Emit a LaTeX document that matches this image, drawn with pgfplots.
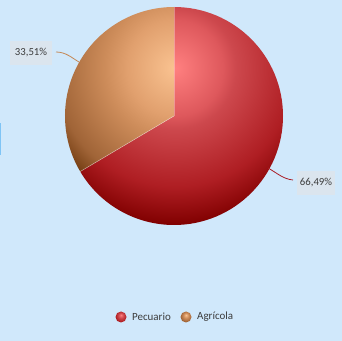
\documentclass[border=0pt]{standalone}
\usepackage{fontspec}
\setmainfont{Carlito}
\usepackage{pgfplots}
\usepackage{pgfplotstable}
\pgfplotsset{compat=1.18}

\definecolor{bgblue}{RGB}{208,232,251}
\definecolor{boxfill}{RGB}{219,229,238}
\definecolor{txt}{RGB}{60,60,60}
% red slice
\definecolor{r0}{RGB}{255,128,128}
\definecolor{r1}{RGB}{222,88,92}
\definecolor{r2}{RGB}{205,72,77}
\definecolor{r3}{RGB}{175,30,35}
\definecolor{r4}{RGB}{128,0,0}
% tan slice
\definecolor{t0}{RGB}{250,195,145}
\definecolor{t1}{RGB}{225,160,110}
\definecolor{t2}{RGB}{205,140,90}
\definecolor{t3}{RGB}{160,100,55}
\definecolor{t4}{RGB}{120,65,22}
\definecolor{t5}{RGB}{110,55,15}

% concentric shadings, centred on the highlight (25bp = radius of shaded path)
\pgfdeclareradialshading{redpie}{\pgfpointorigin}{color(0bp)=(r0); color(7.5bp)=(r1); color(9.5bp)=(r2); color(18.5bp)=(r3); color(24.5bp)=(r4); color(50bp)=(r4)}
\pgfdeclareradialshading{tanpie}{\pgfpointorigin}{color(0bp)=(t0); color(7.5bp)=(t1); color(11bp)=(t2); color(18.75bp)=(t3); color(21.75bp)=(t4); color(25bp)=(t5); color(50bp)=(t5)}
\pgfdeclareradialshading{redball}{\pgfpoint{0bp}{9bp}}{color(0bp)=(r0); color(12bp)=(r2); color(25bp)=(r3); color(50bp)=(r4)}
\pgfdeclareradialshading{tanball}{\pgfpoint{0bp}{9bp}}{color(0bp)=(t0); color(12bp)=(t2); color(25bp)=(t3); color(50bp)=(t4)}

% share of each sector, in percent
\pgfplotstableread{
label value
Pecuario 66.49
Agricola 33.51
}\piedata

\begin{document}
\begin{tikzpicture}
\pgfplotstablegetelem{0}{value}\of\piedata \let\vPec\pgfplotsretval
\pgfplotstablegetelem{1}{value}\of\piedata \let\vAgr\pgfplotsretval
\pgfmathsetmacro{\aStart}{90}
\pgfmathsetmacro{\aMid}{90-3.6*\vPec}
\pgfmathsetmacro{\aEnd}{\aMid-3.6*\vAgr}
\begin{axis}[width=342bp,height=341bp,scale only axis,hide axis,
    xmin=0,xmax=342,ymin=0,ymax=341]
  \fill[bgblue] (axis cs:0,0) rectangle (axis cs:342,341);
  \fill[color={rgb,255:red,127;green,196;blue,245}] (axis cs:0,186) rectangle (axis cs:1.4,218);
  % Pecuario
  \begin{scope}
    \clip (axis cs:174,225) -- ++(\aStart:109bp) arc[start angle=\aStart,end angle=\aMid,radius=109bp] -- cycle;
    \shade[shading=redpie] (axis cs:175,273) circle[radius=160bp];
  \end{scope}
  % Agricola
  \begin{scope}
    \clip (axis cs:174,225) -- ++(\aMid:109bp) arc[start angle=\aMid,end angle=\aEnd,radius=109bp] -- cycle;
    \shade[shading=tanpie] (axis cs:175,273) circle[radius=160bp];
  \end{scope}
  \draw[white,opacity=0.5,line width=0.5bp] (axis cs:174,225) -- ++(\aMid:109bp);
  \draw[white,opacity=0.3,line width=0.4bp] (axis cs:174,225) -- ++(\aStart:109bp);
  % leader lines
  \draw[color={rgb,255:red,196;green,136;blue,86},line width=0.8bp]
    (axis cs:56,289) .. controls (axis cs:66,289) and (axis cs:72,283) .. (axis cs:79,279);
  \draw[color={rgb,255:red,170;green,30;blue,40},line width=0.8bp]
    (axis cs:268,173) .. controls (axis cs:277,168) and (axis cs:283,162) .. (axis cs:293,161);
  % data labels
  \node[fill=boxfill,minimum width=42bp,minimum height=24bp,inner sep=0pt,text=txt,
    font=\fontsize{10.8}{12}\selectfont] at (axis cs:31,288) {33,51\%};
  \node[fill=boxfill,minimum width=38bp,minimum height=24bp,inner sep=0pt,text=txt,
    font=\fontsize{10.8}{12}\selectfont] at (axis cs:316,158) {66,49\%};
  % legend
  \shade[shading=redball] (axis cs:121,24) circle[radius=5.5bp];
  \node[anchor=west,inner sep=0pt,text=txt,font=\fontsize{11}{13}\selectfont] at (axis cs:132,24) {Pecuario};
  \shade[shading=tanball] (axis cs:186,24) circle[radius=5.5bp];
  \node[anchor=west,inner sep=0pt,text=txt,font=\fontsize{11}{13}\selectfont] at (axis cs:197,24) {Agrícola};
\end{axis}
\end{tikzpicture}
\end{document}
